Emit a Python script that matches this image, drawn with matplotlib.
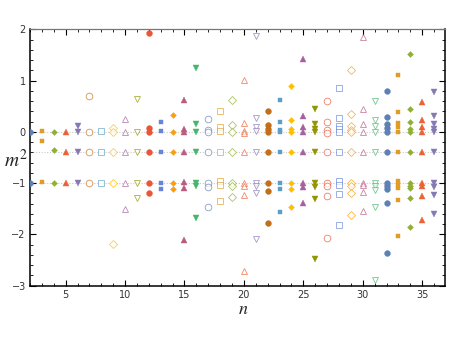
import matplotlib
matplotlib.use("Agg")
import matplotlib.pyplot as plt

# n values (one column of points per n)
n_values = list(range(2, 37))

# m^2 values, one list per n
m2_values = [
    [0.0, -1.0],                                                  # n=2
    [0.02, -0.18, -0.98],                                         # n=3
    [0.0, -0.35, -1.0],                                           # n=4
    [0.0, -0.4, -1.0],                                            # n=5
    [0.12, 0.0, -0.4, -1.0],                                      # n=6
    [0.69, 0.0, -0.4, -1.0],                                      # n=7
    [0.01, -0.4, -1.0],                                           # n=8
    [0.08, 0.0, -0.4, -1.0, -2.18],                               # n=9
    [0.26, 0.0, -0.4, -1.0, -1.51],                               # n=10
    [0.65, 0.0, -0.4, -1.0, -1.29],                               # n=11
    [1.92, 0.08, -0.01, -0.4, -1.0, -1.2],                        # n=12
    [0.19, 0.02, -0.39, -1.0, -1.12],                             # n=13
    [0.33, 0.0, -0.4, -1.0, -1.11],                               # n=14
    [0.62, 0.05, -0.01, -0.4, -0.98, -1.09, -2.11],               # n=15
    [1.25, 0.15, 0.0, -0.4, -1.0, -1.05, -1.67],                  # n=16
    [0.25, 0.03, -0.01, -0.4, -1.0, -1.08, -1.47],                # n=17
    [0.40, 0.1, 0.01, -0.39, -0.96, -1.04, -1.34],                # n=18
    [0.62, 0.13, 0.0, -0.4, -1.0, -1.05, -1.27],                  # n=19
    [1.02, 0.18, 0.02, -0.02, -0.4, -1.0, -1.05, -1.24, -2.72],   # n=20
    [1.87, 0.28, 0.09, 0.01, -0.4, -1.0, -1.05, -1.19, -2.08],    # n=21
    [0.41, 0.13, 0.06, 0.0, -0.4, -1.0, -1.16, -1.77],            # n=22
    [0.62, 0.19, 0.04, -0.01, -0.39, -1.0, -1.11, -1.57],         # n=23
    [0.9, 0.24, 0.05, -0.01, -0.4, -1.0, -1.11, -1.46],           # n=24
    [1.42, 0.31, 0.1, 0.0, -0.4, -1.0, -1.08, -1.39],             # n=25
    [0.44, 0.15, 0.06, 0.0, -0.4, -1.0, -1.07, -1.31, -2.48],     # n=26
    [0.6, 0.19, 0.03, -0.02, -0.4, -1.0, -1.06, -1.26, -2.07],    # n=27
    [0.86, 0.28, 0.12, 0.06, 0.0, -0.4, -0.96, -1.03, -1.22, -1.81],        # n=28
    [1.21, 0.34, 0.12, 0.04, -0.01, -0.4, -1.0, -1.06, -1.2, -1.63],        # n=29
    [1.84, 0.44, 0.16, 0.0, -0.4, -1.0, -1.04, -1.18, -1.55],               # n=30
    [0.6, 0.23, 0.11, 0.0, -0.4, -1.0, -1.06, -1.13, -1.46, -2.89],         # n=31
    [0.8, 0.29, 0.16, 0.08, 0.0, -0.4, -1.0, -1.06, -1.12, -1.39, -2.37],   # n=32
    [1.10, 0.38, 0.18, 0.1, 0.0, -0.39, -0.96, -1.03, -1.1, -1.33, -2.04],  # n=33
    [1.51, 0.45, 0.19, 0.06, 0.0, -0.4, -1.0, -1.06, -1.09, -1.29, -1.85],  # n=34
    [0.58, 0.24, 0.1, 0.0, -0.4, -1.0, -1.06, -1.26, -1.71],                # n=35
    [0.77, 0.31, 0.16, 0.06, 0.0, -0.4, -1.0, -1.07, -1.23, -1.6],          # n=36
]

# guide lines drawn across the plot
guide_levels = [0.0, -0.4, -1.0]

# Mathematica-like default palette and marker cycle
palette = ["#5E81B5", "#E19C24", "#8FB032", "#EB6235", "#8778B3",
           "#C56E1A", "#5D9EC7", "#FFBF00", "#A5609D", "#929600",
           "#E95536", "#6685D9", "#F89F13", "#BC5B80", "#47B66D"]
markers = [("o", True), ("s", True), ("D", True), ("^", True), ("v", True),
           ("o", False), ("s", False), ("D", False), ("^", False), ("v", False)]
marker_sizes = {"o": 4.2, "s": 3.2, "D": 3.0, "^": 4.0, "v": 4.0}

plt.rcParams["mathtext.fontset"] = "stix"

fig = plt.figure(figsize=(4.57, 3.43), dpi=100)
ax = fig.add_axes([0.0656, 0.167, 0.9084, 0.7476])

for y in guide_levels:
    ax.axhline(y, color="#c8c8c8", linestyle=(0, (1, 1.5)), linewidth=0.8, zorder=0)

for i, (n, vals) in enumerate(zip(n_values, m2_values)):
    color = palette[i % len(palette)]
    shape, filled = markers[i % len(markers)]
    ms = marker_sizes[shape]
    if filled:
        ax.plot([n] * len(vals), vals, linestyle="none", marker=shape, ms=ms,
                color=color, markeredgewidth=0.3, zorder=3)
    else:
        ax.plot([n] * len(vals), vals, linestyle="none", marker=shape, ms=ms + 0.6,
                markerfacecolor="white", markeredgecolor=color,
                markeredgewidth=0.6, alpha=0.75, zorder=2)

ax.set_xlim(2, 36.93)
ax.set_ylim(-3, 2)
ax.set_xticks(range(5, 36, 5))
ax.set_xticks(range(2, 37), minor=True)
ax.set_yticks(range(-3, 3))
ax.set_yticks([v / 5 for v in range(-15, 11)], minor=True)

ax.tick_params(which="both", direction="in", top=True, right=True,
               labelsize=7, labelcolor="#333333", color="black")
ax.tick_params(which="major", length=4, width=0.8, pad=3)
ax.tick_params(which="minor", length=2.2, width=0.6)

for side in ["left", "bottom", "right"]:
    ax.spines[side].set_linewidth(1.1)
    ax.spines[side].set_color("black")
ax.spines["top"].set_linewidth(0.9)
ax.spines["top"].set_color("#777777")

ax.set_xlabel("$n$", fontsize=13, color="#222222", va="center")
ax.xaxis.set_label_coords(0.513, -0.09)
ax.set_ylabel("$m^2$", fontsize=14, rotation=0, color="#222222",
              ha="center", va="center")
ax.yaxis.set_label_coords(-0.035, 0.49)

fig.savefig("out.png", dpi=100)
